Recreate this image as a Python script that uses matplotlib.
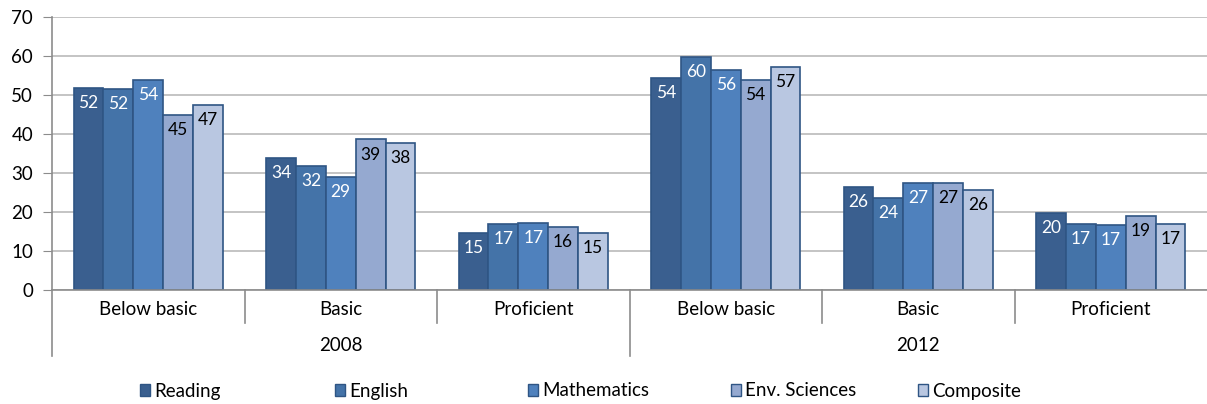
import numpy as np
import matplotlib
matplotlib.use('Agg')
import matplotlib.pyplot as plt
from matplotlib.patches import Patch

plt.rcParams['font.family'] = ['Lato', 'DejaVu Sans']

# %% data
levels = ['Below basic', 'Basic', 'Proficient', 'Below basic', 'Basic', 'Proficient']
years = ['2008', '2012']
series = ['Reading', 'English', 'Mathematics', 'Env. Sciences', 'Composite']
reading = [51.8, 33.8, 14.6, 54.4, 26.4, 19.7]
english = [51.6, 31.8, 16.9, 59.7, 23.6, 16.9]
mathematics = [53.8, 29.0, 17.2, 56.4, 27.4, 16.7]
env_sciences = [44.9, 38.6, 16.2, 53.8, 27.4, 19.0]
composite = [47.4, 37.7, 14.6, 57.2, 25.6, 17.0]

colors = ['#3a5f8f', '#4473a8', '#4f81bd', '#95a9d0', '#b9c7e1']
text_colors = ['white', 'white', 'white', 'black', 'black']
edge = '#2f5584'

# %%
fig = plt.figure(figsize=(12.07, 4.04), dpi=100)
ax = fig.add_axes([52 / 1207, 1 - 290 / 404, 1155 / 1207, 273 / 404])

x = np.arange(len(levels))
width = 0.155
data = [reading, english, mathematics, env_sciences, composite]
for i, (vals, name) in enumerate(zip(data, series)):
    pos = x + (i - 2) * width
    bars = ax.bar(pos, vals, width, color=colors[i], edgecolor=edge,
                  linewidth=1.2, label=name, zorder=3)
    for b, v in zip(bars, vals):
        ax.annotate('%.0f' % v, (b.get_x() + b.get_width() / 2, v),
                    xytext=(0, -11), textcoords='offset points',
                    ha='center', va='center', fontsize=12.5,
                    color=text_colors[i], zorder=4)

ax.set_xlim(-0.5, len(levels) - 0.5)
ax.set_ylim(0, 70)
ax.set_yticks(range(0, 71, 10))
ax.yaxis.grid(True, color='#bfbfbf', linewidth=1.3, zorder=0)
for s in ['top', 'right', 'bottom']:
    ax.spines[s].set_visible(False)
ax.spines['left'].set_color('#8c8c8c')
ax.spines['left'].set_linewidth(1.2)
ax.axhline(0, color='#8c8c8c', linewidth=1.2, zorder=5, clip_on=False)
ax.tick_params(axis='y', length=6.5, color='#8c8c8c', labelsize=13.5, pad=7)
ax.tick_params(axis='x', length=0)
ax.set_xticks([])

# two-level category axis
trans = ax.get_xaxis_transform()
for i, lab in enumerate(levels):
    ax.text(i, -0.07, lab, transform=trans, ha='center', va='center',
            fontsize=13.5)
for j, yr in enumerate(years):
    ax.text(3 * j + 1, -0.205, yr, transform=trans, ha='center',
            va='center', fontsize=13.5)
for k in [0.5, 1.5, 3.5, 4.5]:
    ax.plot([k, k], [0, -0.12], transform=trans, color='#8c8c8c',
            linewidth=1.2, clip_on=False)
for k in [-0.5, 2.5]:
    ax.plot([k, k], [0, -0.24], transform=trans, color='#8c8c8c',
            linewidth=1.2, clip_on=False)

# legend entries placed one by one, like the original
leg_x = [140, 335, 528, 731, 918]
for i, name in enumerate(series):
    h = Patch(facecolor=colors[i], edgecolor=edge, linewidth=1.0)
    lg = fig.legend(handles=[h], labels=[name], loc='center left',
                    bbox_to_anchor=(leg_x[i] / 1207, 1 - 391 / 404),
                    frameon=False, fontsize=13.5, handlelength=0.55,
                    handleheight=0.55, handletextpad=0.2, borderpad=0,
                    borderaxespad=0)

plt.savefig('out.png', dpi=100)
